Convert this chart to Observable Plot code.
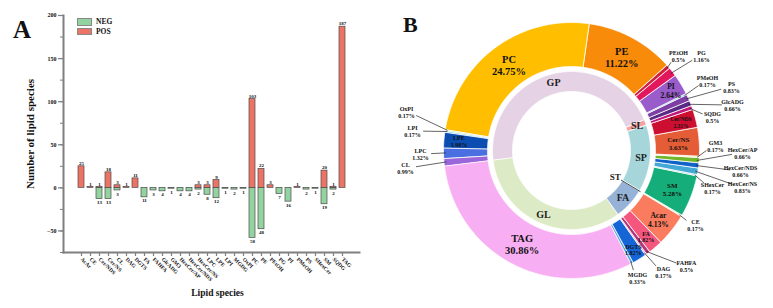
<!DOCTYPE html>
<html>
<head>
<meta charset="utf-8">
<script src="https://cdn.jsdelivr.net/npm/d3@7"></script>
<script src="https://cdn.jsdelivr.net/npm/@observablehq/plot@0.6"></script>
<style>
  body { margin: 0; background: #fff; }
  #wrap { position: relative; width: 773px; height: 308px; font-family: "Liberation Serif", "Times New Roman", serif; font-weight: bold; color: #111; }
  #panelA, #panelB { position: absolute; top: 0; }
  #panelA { left: 0; }
  #panelB { left: 375px; }
  .letter { position: absolute; font-size: 25px; line-height: 1; }
  .legend { position: absolute; left: 77px; top: 17px; font-size: 7.5px; }
  .legend .item { display: flex; align-items: center; height: 9.5px; }
  .legend .sw { display: inline-block; width: 15px; height: 7.5px; border: 0.6px solid #888; margin-right: 4px; box-sizing: border-box; }
</style>
</head>
<body>
<div id="wrap">
  <div id="panelA"></div>
  <div id="panelB"></div>
  <div class="letter" style="left:13px;top:17px">A</div>
  <div class="letter" style="left:403px;top:14px;font-size:22px">B</div>
  <div class="legend" id="legend"></div>
</div>
<script>
// ---- Panel A: number of lipid species detected per class, by ion mode ----
const species = ["AcAr","CE","Cer/NDS","Cer/NS","CL","DAG","DGTS","FA","FAHFA","GlcADG","GM3","HexCer/AP","HexCer/NDS","HexCer/NS","LPC","LPE","LPI","MGDG","OxPI","PC","PE","PEtOH","PG","PI","PMeOH","PS","SHexCer","SM","SQDG","TAG"];
const posCounts = [25,1,1,18,3,1,11,0,0,0,0,0,0,3,3,9,0,0,0,103,22,3,0,0,1,0,0,20,1,187];
const negCounts = [0,0,13,13,3,0,0,11,3,4,1,4,4,2,8,12,1,2,1,58,48,0,7,16,0,2,1,19,2,0];
const modeNames = ["NEG", "POS"];
const modeColors = ["#93d3a0", "#ec7465"];
const yTicks = [-50, 0, 50, 100, 150, 200];

// ---- Panel B: share of each lipid class (outer ring) and its category (inner ring) ----
const lipidClasses = ["CL","LPC","LPE","LPI","OxPI","PC","PE","PEtOH","PG","PI","PMeOH","PS","GlcADG","SQDG","Cer/NDS","Cer/NS","GM3","HexCer/AP","HexCer/NDS","HexCer/NS","SHexCer","SM","CE","Acar","FA","FAHFA","DAG","DGTS","MGDG","TAG"];
const classShares = [0.99,1.32,1.98,0.17,0.17,24.75,11.22,0.5,1.16,2.64,0.17,0.83,0.66,0.5,2.31,3.63,0.17,0.66,0.66,0.83,0.17,5.28,0.17,4.13,1.82,0.5,0.17,1.82,0.33,30.86];
const classCategory = ["GP","GP","GP","GP","GP","GP","GP","GP","GP","GP","GP","GP","SL","SL","SP","SP","SP","SP","SP","SP","SP","SP","ST","FA","FA","FA","GL","GL","GL","GL"];
const classColors = ["#9b66d9","#4a6fe0","#0b4db0","#5cc8d6","#c3e08e","#ffbf00","#f98b0a","#d21d3e","#e3185c","#9a5ccb","#6ec6e0","#7d3fa3","#5b2a86","#c0187a","#cc0e30","#e45d37","#f2e4a0","#72b62c","#1062c8","#44a8d6","#85d0cf","#15ae7a","#efe3a8","#fa7b5e","#f5567e","#b53579","#d08fd6","#1565d6","#55a6e4","#f8aef2"];
const categoryNames = ["GP","SL","SP","ST","FA","GL"];
const categoryColors = ["#e5d3e5","#f4a3a3","#a6d6d9","#c9b9dc","#96b2d6","#ddeac6"];

// legend
const legend = d3.select("#legend");
modeNames.forEach((m, i) => {
  const it = legend.append("div").attr("class", "item");
  it.append("span").attr("class", "sw").style("background", modeColors[i]);
  it.append("span").text(m);
});

const rowsA = species.map((s, i) => ({species: s, pos: posCounts[i], neg: negCounts[i]}));
const posRows = rowsA.filter(d => d.pos > 0);
const negRows = rowsA.filter(d => d.neg > 0);
const axisGrey = "#7f7f7f";
const barStroke = "#4a4a4a";

const plotA = Plot.plot({
  width: 375,
  height: 308,
  marginLeft: 63,
  marginRight: 16,
  marginTop: 15,
  marginBottom: 56,
  style: {fontFamily: "Liberation Serif, Times New Roman, serif", fontWeight: "bold", fontSize: "6px", color: "#111", background: "transparent"},
  x: {domain: species, paddingInner: 0.34, paddingOuter: 0.15},
  y: {domain: [-75, 200]},
  marks: [
    Plot.axisY({ticks: yTicks, tickSize: 5, tickPadding: 2, stroke: axisGrey, strokeWidth: 1.2, label: null, fontSize: 6}),
    Plot.axisY({ticks: d3.range(-75, 201, 25), tickSize: 3, text: null, stroke: axisGrey, strokeWidth: 1, label: null}),
    Plot.axisX({tickRotate: 45, tickSize: 4, tickPadding: 2, stroke: axisGrey, strokeWidth: 1.2, label: null, fontSize: 5.5}),
    Plot.frame({anchor: "left", stroke: axisGrey, strokeWidth: 2}),
    Plot.frame({anchor: "bottom", stroke: axisGrey, strokeWidth: 2}),
    Plot.barY(negRows, {x: "species", y1: 0, y2: d => -d.neg, fill: modeColors[0], stroke: barStroke, strokeWidth: 0.7}),
    Plot.barY(posRows, {x: "species", y1: 0, y2: "pos", fill: modeColors[1], stroke: barStroke, strokeWidth: 0.7}),
    Plot.text(posRows, {x: "species", y: "pos", text: d => String(d.pos), dy: -1.5, lineAnchor: "bottom", fontSize: 5}),
    Plot.text(negRows, {x: "species", y: d => -d.neg, text: d => String(d.neg), dy: 1.5, lineAnchor: "top", fontSize: 5}),
    Plot.text([0], {frameAnchor: "left", textAnchor: "middle", text: () => "Number of lipid species", rotate: -90, dx: -33, fontSize: 11}),
    Plot.text([0], {frameAnchor: "bottom", textAnchor: "middle", text: () => "Lipid species", dx: 6, dy: 43, fontSize: 9.5})
  ]
});
document.getElementById("panelA").append(plotA);

// ---- donut geometry ----
const cx = 196, cy = 150;
const rOuter = [84, 128];
const rInner = [59, 79];
const startAngle = -97 * Math.PI / 180;

const outerRows = lipidClasses.map((name, i) => ({name, share: classShares[i], category: classCategory[i], color: classColors[i]}));
const innerRows = categoryNames.map((c, i) => ({
  name: c,
  share: d3.sum(outerRows.filter(d => d.category === c), d => d.share),
  color: categoryColors[i]
}));

const pie = d3.pie().sort(null).value(d => d.share).startAngle(startAngle).endAngle(startAngle + 2 * Math.PI);
const outerArcs = pie(outerRows);
const innerArcs = pie(innerRows);

const polar = (a, r) => [cx + r * Math.sin(a), cy - r * Math.cos(a)];

function arcFeature(arc, r0, r1) {
  const a0 = arc.startAngle, a1 = arc.endAngle;
  const n = Math.max(2, Math.ceil((a1 - a0) / (Math.PI / 360)));
  const ring = [];
  for (let i = 0; i <= n; i++) ring.push(polar(a0 + (a1 - a0) * i / n, r1));
  for (let i = n; i >= 0; i--) ring.push(polar(a0 + (a1 - a0) * i / n, r0));
  ring.push(ring[0]);
  return {type: "Feature", properties: arc.data, geometry: {type: "Polygon", coordinates: [ring]}};
}

const outerFeatures = outerArcs.map(a => arcFeature(a, rOuter[0], rOuter[1]));
const innerFeatures = innerArcs.map(a => arcFeature(a, rInner[0], rInner[1]));

// labels placed on the ring itself: [font size, radius]
const ringLabelStyle = {
  "PC": [10.5, 106], "PE": [10.5, 106], "TAG": [10.5, 106],
  "PI": [7.5, 116], "Cer/NS": [7, 107], "SM": [7, 108], "Acar": [7.5, 111],
  "Cer/NDS": [5.5, 113], "FA": [6, 114], "DGTS": [6, 117], "LPE": [6, 113]
};
const midAngle = a => (a.startAngle + a.endAngle) / 2;
const ringLabels = outerArcs.filter(a => ringLabelStyle[a.data.name]).map(a => {
  const [size, r] = ringLabelStyle[a.data.name];
  const [x, y] = polar(midAngle(a), r);
  return {x, y, text: `${a.data.name}\n${a.data.share}%`, size};
});

// callout labels for the thin slices (offsets of the name line from the donut centre)
const calloutOffset = {
  "OxPI": [-165, -42], "LPI": [-159, -23], "LPC": [-151, 0], "CL": [-166, 14],
  "PEtOH": [107, -98], "PG": [130, -98], "PMeOH": [136, -73], "PS": [160, -67],
  "GlcADG": [161, -49], "SQDG": [141, -37], "GM3": [144, -8], "HexCer/AP": [171, -1],
  "HexCer/NDS": [169, 17], "HexCer/NS": [171, 33], "SHexCer": [141, 34], "CE": [124, 71],
  "FAHFA": [115, 112], "DAG": [92, 118], "MGDG": [66, 124]
};
const callouts = outerArcs.filter(a => calloutOffset[a.data.name]).map(a => {
  const [ox, oy] = calloutOffset[a.data.name];
  const lx = cx + ox, ly = cy + oy + 3.5;
  const [ax, ay] = polar(midAngle(a), rOuter[1] - 2);
  const vx = ax - lx, vy = ay - ly, len = Math.hypot(vx, vy);
  const ex = lx + vx / len * 11, ey = ly + vy / len * 9;
  return {x: lx, y: ly, text: `${a.data.name}\n${a.data.share}%`, line: [[ax, ay], [ex, ey]]};
});
const calloutLines = callouts.map(c => ({type: "Feature", properties: {}, geometry: {type: "LineString", coordinates: c.line}}));

// inner ring labels
const innerLabels = innerArcs.filter(a => a.data.name !== "ST").map(a => {
  const [x, y] = polar(midAngle(a), (rInner[0] + rInner[1]) / 2 + 1);
  return {x, y, text: a.data.name};
});
const stArc = innerArcs.find(a => a.data.name === "ST");
const [stx, sty] = polar(midAngle(stArc), 51);
const stLabel = [{x: stx, y: sty, text: "ST"}];
const stLine = [{type: "Feature", properties: {}, geometry: {type: "LineString", coordinates: [polar(midAngle(stArc), 58), polar(midAngle(stArc), rInner[1] + 1)]}}];

const plotB = Plot.plot({
  width: 398,
  height: 308,
  margin: 0,
  projection: d3.geoIdentity(),
  style: {fontFamily: "Liberation Serif, Times New Roman, serif", fontWeight: "bold", color: "#111", background: "transparent"},
  marks: [
    Plot.geo(outerFeatures, {fill: d => d.properties.color, stroke: "white", strokeWidth: 0.8}),
    Plot.geo(innerFeatures, {fill: d => d.properties.color, stroke: "white", strokeWidth: 0.8}),
    Plot.geo(calloutLines, {stroke: "#222", strokeWidth: 0.7}),
    Plot.geo(stLine, {stroke: "#333", strokeWidth: 0.9}),
    Plot.text(ringLabels, {x: "x", y: "y", text: "text", fontSize: "size", lineHeight: 1.15, fill: "#111"}),
    Plot.text(callouts, {x: "x", y: "y", text: "text", fontSize: 6, lineHeight: 1.15, fill: "#111"}),
    Plot.text(innerLabels, {x: "x", y: "y", text: "text", fontSize: 10, fill: "#222"}),
    Plot.text(stLabel, {x: "x", y: "y", text: "text", fontSize: 9, fill: "#222"})
  ]
});
document.getElementById("panelB").append(plotB);
</script>
</body>
</html>
